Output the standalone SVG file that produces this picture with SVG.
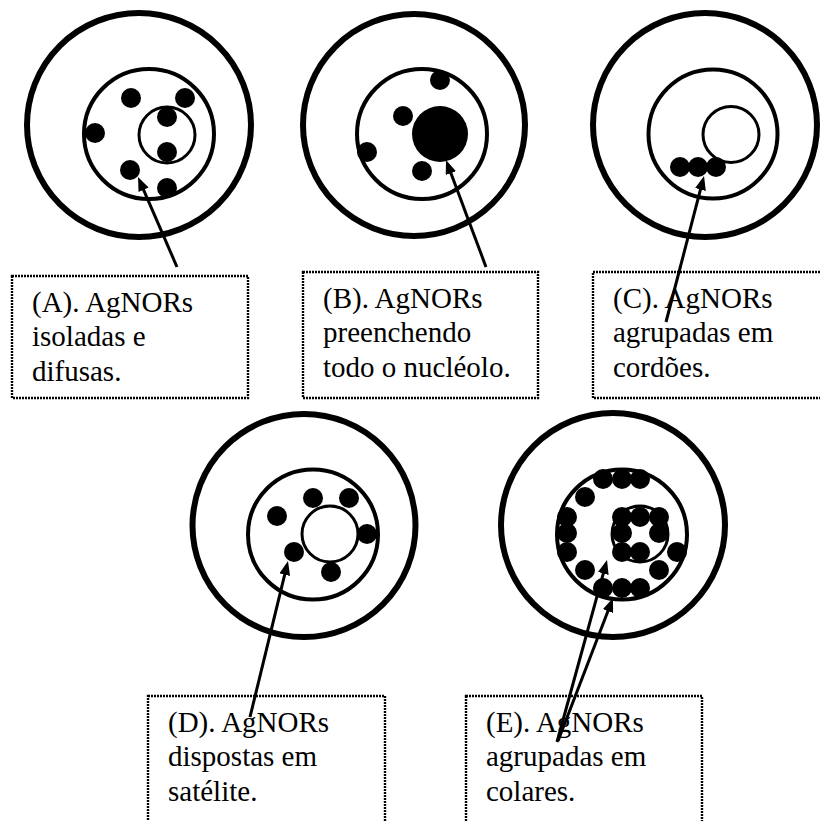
<svg xmlns="http://www.w3.org/2000/svg" width="820" height="821" viewBox="0 0 820 821">
  <style>
    .cell { fill: none; stroke: #000; stroke-width: 6; }
    .nuc { fill: none; stroke: #000; stroke-width: 4; }
    .nucl { fill: #fff; stroke: #000; stroke-width: 3; }
    .dot { fill: #000; }
    .box { fill: #fff; stroke: #000; stroke-width: 2.4; stroke-dasharray: 2 1; }
    .arrow { stroke: #000; stroke-width: 3; fill: none; marker-end: url(#head); }
  </style>
  <defs>
    <marker id="head" viewBox="0 0 14 11" refX="6" refY="5.5" markerWidth="14" markerHeight="11" markerUnits="userSpaceOnUse" orient="auto">
      <path d="M0,0 L14,5.5 L0,11 Z" fill="#000"/>
    </marker>
  </defs>
  <rect width="820" height="821" fill="#fff"/>

  <!-- (A) isolated and diffuse -->
  <g id="cellA">
    <circle class="cell" cx="139" cy="125" r="112"/>
    <circle class="nuc" cx="149" cy="134" r="65"/>
    <circle class="nucl" cx="167" cy="135" r="28"/>
    <circle class="dot" cx="131" cy="98" r="10"/>
    <circle class="dot" cx="185" cy="98" r="10"/>
    <circle class="dot" cx="167" cy="117" r="10"/>
    <circle class="dot" cx="95" cy="133" r="10"/>
    <circle class="dot" cx="167" cy="152" r="10"/>
    <circle class="dot" cx="130" cy="170" r="10"/>
    <circle class="dot" cx="167" cy="188" r="10"/>
  </g>

  <!-- (B) filling the whole nucleolus -->
  <g id="cellB">
    <circle class="cell" cx="414" cy="125" r="111"/>
    <circle class="nuc" cx="422" cy="134" r="65"/>
    <circle class="dot" cx="440" cy="134" r="28"/>
    <circle class="dot" cx="440" cy="80" r="10"/>
    <circle class="dot" cx="403" cy="116" r="10"/>
    <circle class="dot" cx="367" cy="152" r="10"/>
    <circle class="dot" cx="422" cy="171" r="10"/>
  </g>

  <!-- (C) grouped in strings -->
  <g id="cellC">
    <circle class="cell" cx="705" cy="125" r="112"/>
    <circle class="nuc" cx="713" cy="134" r="64.5"/>
    <circle class="nucl" cx="731" cy="134.5" r="28"/>
    <circle class="dot" cx="680" cy="167" r="10"/>
    <circle class="dot" cx="698" cy="167" r="10"/>
    <circle class="dot" cx="716" cy="167" r="10"/>
  </g>

  <!-- (D) satellite arrangement -->
  <g id="cellD">
    <circle class="cell" cx="304" cy="525.5" r="111.5"/>
    <circle class="nuc" cx="313" cy="534.5" r="65"/>
    <circle class="nucl" cx="330" cy="534" r="28"/>
    <circle class="dot" cx="277" cy="516" r="10"/>
    <circle class="dot" cx="313" cy="498" r="10"/>
    <circle class="dot" cx="349" cy="498" r="10"/>
    <circle class="dot" cx="367" cy="534" r="10"/>
    <circle class="dot" cx="294" cy="552" r="10"/>
    <circle class="dot" cx="331" cy="572" r="10"/>
  </g>

  <!-- (E) necklace arrangement -->
  <g id="cellE">
    <circle class="cell" cx="613" cy="525" r="112"/>
    <circle class="nuc" cx="622" cy="534.5" r="65"/>
    <circle class="nucl" cx="640" cy="534" r="28"/>
    <circle class="dot" cx="603" cy="479" r="10"/>
    <circle class="dot" cx="622" cy="479" r="10"/>
    <circle class="dot" cx="640" cy="479" r="10"/>
    <circle class="dot" cx="585" cy="497" r="10"/>
    <circle class="dot" cx="567" cy="517" r="10"/>
    <circle class="dot" cx="567" cy="533" r="10"/>
    <circle class="dot" cx="567" cy="552" r="10"/>
    <circle class="dot" cx="585" cy="570" r="10"/>
    <circle class="dot" cx="603" cy="588" r="10"/>
    <circle class="dot" cx="622" cy="588" r="10"/>
    <circle class="dot" cx="640" cy="588" r="10"/>
    <circle class="dot" cx="659" cy="570" r="10"/>
    <circle class="dot" cx="677" cy="552" r="10"/>
    <circle class="dot" cx="622" cy="517" r="10"/>
    <circle class="dot" cx="640" cy="517" r="10"/>
    <circle class="dot" cx="659" cy="517" r="10"/>
    <circle class="dot" cx="622" cy="533" r="10"/>
    <circle class="dot" cx="659" cy="533" r="10"/>
    <circle class="dot" cx="622" cy="552" r="10"/>
    <circle class="dot" cx="640" cy="552" r="10"/>
  </g>

  <!-- label boxes -->
  <g font-family="Liberation Serif, Times New Roman, DejaVu Serif, serif" font-size="29" fill="#000">
    <g id="labelA">
      <rect class="box" x="12" y="276" width="236" height="122"/>
      <text x="32" y="312">(A). AgNORs</text>
      <text x="32" y="346">isoladas e</text>
      <text x="32" y="381">difusas.</text>
    </g>
    <g id="labelB">
      <rect class="box" x="303" y="272" width="235" height="126"/>
      <text x="323" y="308">(B). AgNORs</text>
      <text x="323" y="342">preenchendo</text>
      <text x="323" y="377">todo o nucléolo.</text>
    </g>
    <g id="labelC">
      <rect class="box" x="593" y="272" width="240" height="126"/>
      <text x="613" y="308">(C). AgNORs</text>
      <text x="613" y="342">agrupadas em</text>
      <text x="613" y="377">cordões.</text>
    </g>
    <g id="labelD">
      <rect class="box" x="148" y="696" width="237" height="140"/>
      <text x="168" y="732">(D). AgNORs</text>
      <text x="168" y="766">dispostas em</text>
      <text x="168" y="801">satélite.</text>
    </g>
    <g id="labelE">
      <rect class="box" x="466" y="696" width="236" height="140"/>
      <text x="486" y="732">(E). AgNORs</text>
      <text x="486" y="766">agrupadas em</text>
      <text x="486" y="801">colares.</text>
    </g>
  </g>

  <!-- pointer arrows -->
  <g id="connectors">
    <line class="arrow" x1="177" y1="267" x2="141.2" y2="184.3"/>
    <line class="arrow" x1="486" y1="267" x2="448.8" y2="167.5"/>
    <line class="arrow" x1="666" y1="322" x2="702.0" y2="183.7"/>
    <line class="arrow" x1="250" y1="717" x2="286.1" y2="568.8"/>
    <line class="arrow" x1="557" y1="742" x2="604.9" y2="567.7"/>
    <line class="arrow" x1="558" y1="741" x2="610.1" y2="605.5"/>
  </g>
</svg>
